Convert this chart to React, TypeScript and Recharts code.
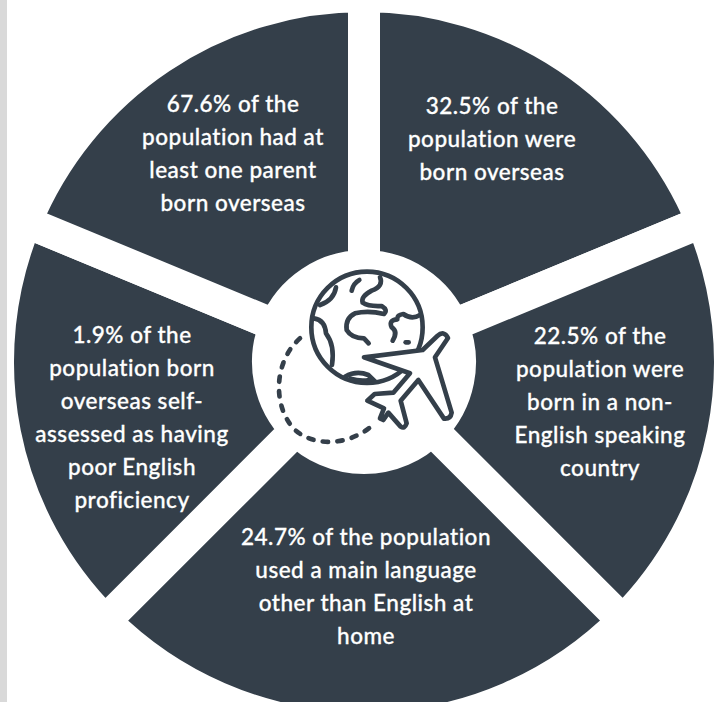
import React from 'react'
import { PieChart, Pie, Cell } from 'recharts'

const SLATE = '#343f4a'

// clockwise from twelve o'clock; the bottom slice is drawn wider than the other four
const segments = ['bornOverseas', 'nonEnglishCountry', 'otherLanguage', 'poorEnglish', 'parentOverseas']
const spanDegrees = [67.5, 67.5, 90, 67.5, 67.5]

const captions = [
  ['32.5% of the', 'population were', 'born overseas'],
  ['22.5% of the', 'population were', 'born in a non-', 'English speaking', 'country'],
  ['24.7% of the population', 'used a main language', 'other than English at', 'home'],
  ['1.9% of the', 'population born', 'overseas self-', 'assessed as having', 'poor English', 'proficiency'],
  ['67.6% of the', 'population had at', 'least one parent', 'born overseas'],
]

const chartData = segments.map((name, i) => ({ name, span: spanDegrees[i] }))

// caption block centres, measured from the pie centre
const captionOffsets = [
  [128, -221],
  [236, 42],
  [2, 227],
  [-232, 58],
  [-131, -206],
]
const LINE_HEIGHT = 33

function renderCaption(props: any) {
  const { cx, cy, index } = props
  const lines = captions[index]
  const [dx, dy] = captionOffsets[index]
  const top = cy + dy - ((lines.length - 1) * LINE_HEIGHT) / 2
  return (
    <text
      key={index}
      textAnchor="middle"
      fill="#ffffff"
      stroke="#ffffff"
      strokeWidth={0.3}
      fontFamily="Lato, sans-serif"
      fontSize={22.5}
      fontWeight={500}
      letterSpacing={0.5}
    >
      {lines.map((line, i) => (
        <tspan key={line} x={cx + dx} y={top + i * LINE_HEIGHT} dominantBaseline="middle">
          {line}
        </tspan>
      ))}
    </text>
  )
}

// globe, plane and dashed flight path in the hub; sits in its own svg so the
// white slice strokes do not paint over it
function TravelIcon() {
  return (
    <svg width={721} height={702} style={{ position: 'absolute', left: 0, top: 0 }}>
      <g
        transform="translate(240 250) scale(0.3333)"
        fill="none"
        stroke={SLATE}
        strokeWidth={14}
        strokeLinecap="round"
        strokeLinejoin="round"
      >
        <circle cx={381} cy={232} r={167} />
        <path d="M240 165 Q282 150 288 112" />
        <path d="M335 122 Q340 100 358 90" />
        <path d="M420 82 Q432 108 395 122 Q362 140 368 158 Q385 170 425 168 Q445 180 432 192 Q385 180 345 190 Q315 205 320 240 Q335 265 372 265 L386 280" />
        <path d="M540 195 Q515 210 490 192 Q470 195 472 208 Q445 210 455 232 Q475 245 458 272" />
        <path d="M222 205 Q255 210 258 250 Q285 285 276 345" />
        <path d="M315 380 Q350 360 385 375 L405 394" />
        <path d="M332 386 Q360 395 388 390" />
        <path d="M497 277 L506 277" />
        <path
          d="M372 322 L548 300 L592 258 Q612 240 624 264 L585 322 L635 488 Q632 508 612 506 L535 390 L482 452 L500 520 Q494 538 482 530 L445 488 L430 510 L420 505 L432 475 L382 452 L404 432 L460 428 L510 370 Z"
          fill="#ffffff"
        />
        <path d="M180 265 C105 330 95 460 160 535 C215 590 320 590 393 530" strokeDasharray="16 28" />
      </g>
    </svg>
  )
}

export default function App() {
  return (
    <div style={{ position: 'fixed', left: 0, top: 0, width: 721, height: 702, overflow: 'hidden', background: '#ffffff' }}>
      <PieChart width={721} height={702} margin={{ top: 0, right: 0, bottom: 0, left: 0 }}>
        {/* the thick white stroke cuts even-width gaps between the slices */}
        <Pie
          data={chartData}
          dataKey="span"
          nameKey="name"
          cx={364}
          cy={362}
          innerRadius={96}
          outerRadius={366}
          startAngle={90}
          endAngle={-270}
          paddingAngle={0}
          stroke="#ffffff"
          strokeWidth={32}
          label={renderCaption}
          labelLine={false}
          isAnimationActive={false}
        >
          {chartData.map((d) => (
            <Cell key={d.name} fill={SLATE} stroke="#ffffff" strokeWidth={32} />
          ))}
        </Pie>
      </PieChart>
      <TravelIcon />
      <div style={{ position: 'absolute', left: 0, top: 0, width: 7, height: 702, background: '#d9d9d9' }} />
    </div>
  )
}
